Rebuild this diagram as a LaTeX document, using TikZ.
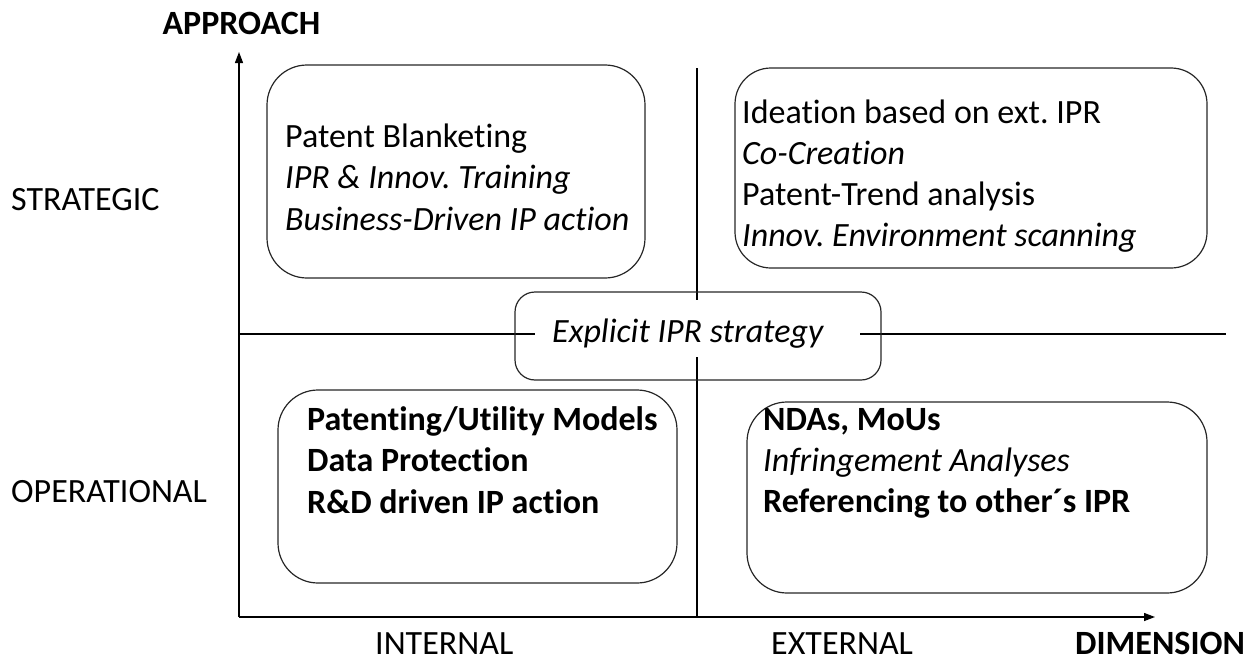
\documentclass[tikz,border=0pt]{standalone}
\usepackage{fontspec}
\setmainfont{Carlito}[Ligatures=NoCommon]
\usetikzlibrary{arrows.meta}
\frenchspacing
\tikzset{
  txt/.style={inner sep=0pt, anchor=base west, font=\fontsize{34}{41}\selectfont},
  boldtxt/.style={txt, font=\fontsize{34}{41}\selectfont\bfseries},
  ittxt/.style={txt, font=\fontsize{34}{41}\selectfont\itshape},
  axisline/.style={line width=1.3pt, -{Triangle[length=11pt,width=8pt]}},
  plainline/.style={line width=1.2pt},
  qbox/.style={draw, line width=1.2pt, inner sep=0pt, color=black!85},
}
\begin{document}
\frenchspacing
\begin{tikzpicture}[x=1pt,y=-1pt]
\useasboundingbox (0,0) rectangle (1257,661);
% axes
\coordinate (O) at (239,617);
\coordinate (ytip) at (239,52);
\coordinate (xtip) at (1155,617);
\draw[axisline] (O) -- (ytip);
\draw[axisline] (O) -- (xtip);
% quadrant dividers
\coordinate (vtop) at (697,68);
\coordinate (vbot) at (697,617);
\coordinate (hl) at (239,334);
\coordinate (hr) at (1226,334);
\draw[plainline] (vtop) -- (vbot);
\draw[plainline] (hl) -- (hr);
% boxes
\node[qbox, rounded corners=40pt, minimum width=378pt, minimum height=213pt] (tl) at (456,171.5) {};
\node[qbox, rounded corners=36pt, minimum width=472pt, minimum height=200pt] (tr) at (971,168) {};
\node[qbox, rounded corners=40pt, minimum width=399pt, minimum height=193pt] (bl) at (477.5,486.5) {};
\node[qbox, rounded corners=40pt, minimum width=460pt, minimum height=191pt] (br) at (977,497.5) {};
% middle box with mask
\node[fill=white, inner sep=0pt, minimum width=325pt, minimum height=57pt] (mask) at (697.5,328.5) {};
\node[qbox, rounded corners=20pt, minimum width=366pt, minimum height=88pt] (mid) at (698,336) {};
\node[ittxt] (midt) at (552,342) {Explicit IPR strategy};
% top-left text
\node[txt] (tl1) at (285,147) {Patent Blanketing};
\node[ittxt] (tl2) at (285,188) {IPR \& Innov. Training};
\node[ittxt] (tl3) at (285,230) {Business-Driven IP action};
% top-right text
\node[txt] (tr1) at (742,123) {Ideation based on ext. IPR};
\node[ittxt] (tr2) at (742,164) {Co-Creation};
\node[txt] (tr3) at (742,205) {Patent-Trend analysis};
\node[ittxt] (tr4) at (742,246) {Innov. Environment scanning};
% bottom-left text
\node[boldtxt] (bl1) at (307,430) {Patenting/Utility Models};
\node[boldtxt] (bl2) at (307,471) {Data Protection};
\node[boldtxt] (bl3) at (307,513) {R\&D driven IP action};
% bottom-right text
\node[boldtxt] (br1) at (763,430) {NDAs, MoUs};
\node[ittxt] (br2) at (763,471) {Infringement Analyses};
\node[boldtxt] (br3) at (763,512) {Referencing to other´s IPR};
% axis labels
\node[boldtxt, anchor=base] (appr) at (241.5,35) {APPROACH};
\node[txt] (strat) at (11,210) {STRATEGIC};
\node[txt] (oper) at (11,502) {OPERATIONAL};
\node[txt] (intl) at (375,654) {INTERNAL};
\node[txt] (extl) at (771,654) {EXTERNAL};
\node[boldtxt] (dim) at (1075,654) {DIMENSION};
\end{tikzpicture}
\end{document}
